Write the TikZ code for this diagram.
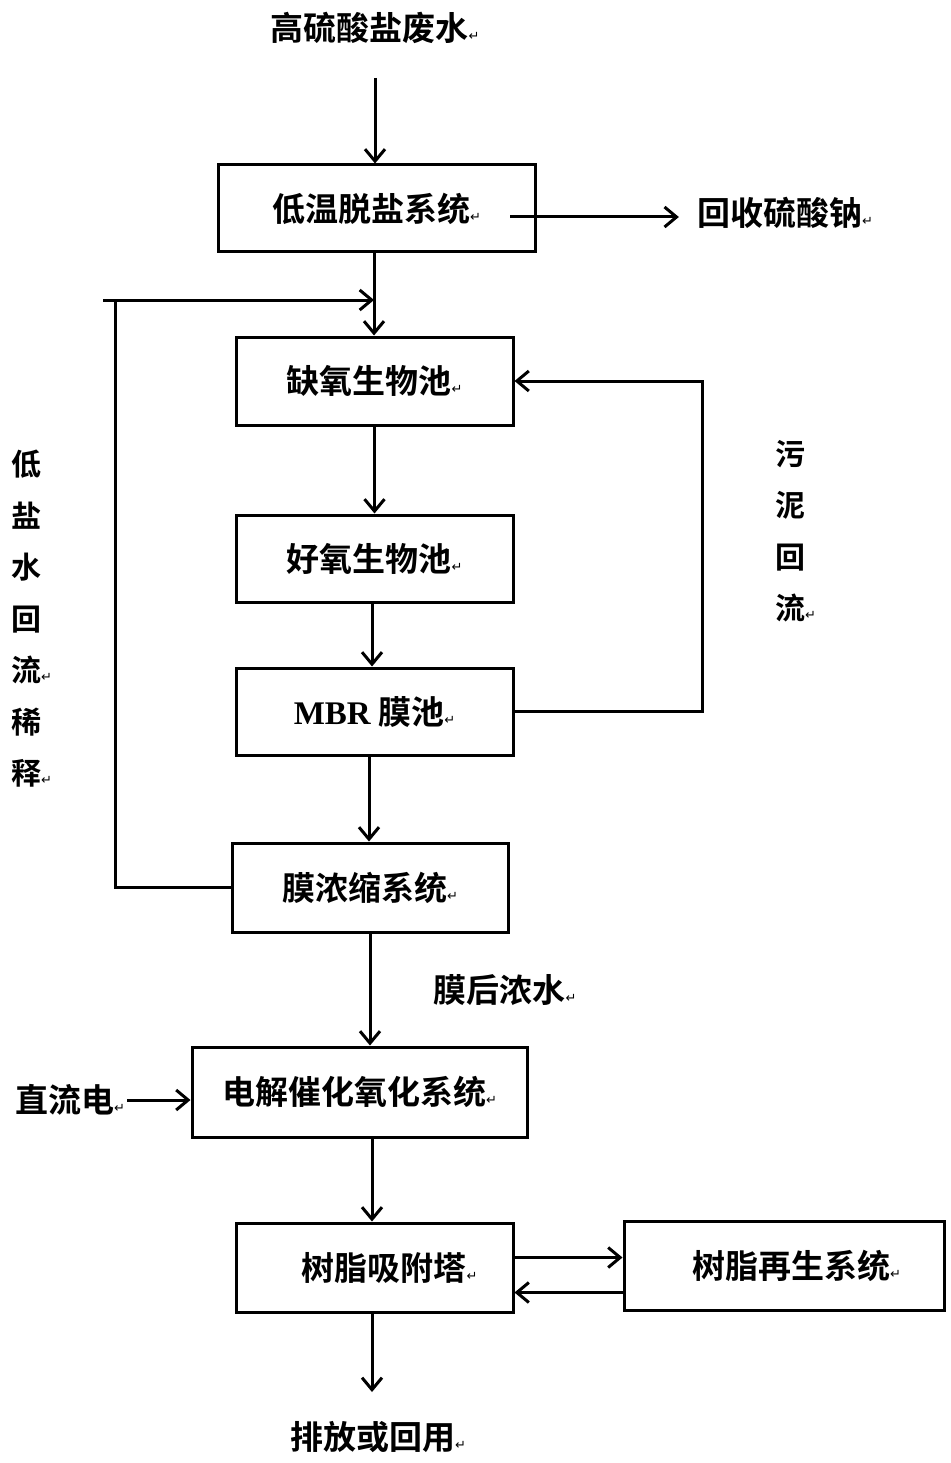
\documentclass[tikz,border=0pt]{standalone}
\usepackage{fontspec}
\setmainfont{Noto Sans CJK SC}[BoldFont={Noto Sans CJK SC Bold}]
\newfontfamily\retfont{DejaVu Sans}
\newfontfamily\tnr{Liberation Serif}
\usetikzlibrary{arrows.meta}
\newcommand{\rtt}{{\mdseries\retfont\fontsize{13pt}{13pt}\selectfont ↵}}
\newcommand{\rlt}{\rlap{\rtt}}
\tikzset{
  box/.style={draw, line width=3pt, inner sep=0pt, font=\fontsize{33pt}{33pt}\selectfont\bfseries},
  lbl/.style={inner sep=2pt, font=\fontsize{33pt}{33pt}\selectfont\bfseries},
  vlbl/.style={inner sep=0pt, align=center, font=\fontsize{30pt}{51.5pt}\selectfont\bfseries},
  conn/.style={line width=3pt},
  arr/.style={line width=3pt, -{Straight Barb[length=12pt,width=20pt,line width=3pt]}}
}
\begin{document}
\begin{tikzpicture}[x=1pt,y=-1pt]
\useasboundingbox (0,0) rectangle (950,1463);
% nodes
\node[lbl] (src) at (375,28) {高硫酸盐废水\rtt};
\node[box, minimum width=317pt, minimum height=87pt] (b1) at (376.5,208.5) {低温脱盐系统\rtt};
\node[lbl] (rec) at (785,213) {回收硫酸钠\rtt};
\node[box, minimum width=277pt, minimum height=88pt] (b2) at (374.5,381) {缺氧生物池\rtt};
\node[box, minimum width=277pt, minimum height=87pt] (b3) at (374.5,558.5) {好氧生物池\rtt};
\node[box, minimum width=277pt, minimum height=87pt] (b4) at (374.5,711.5) {{\tnr\bfseries MBR} 膜池\rtt};
\node[box, minimum width=276pt, minimum height=89pt] (b6) at (370,887.5) {膜浓缩系统\rtt};
\node[lbl] (mh) at (505,990) {膜后浓水\rtt};
\node[box, minimum width=335pt, minimum height=90pt] (b7) at (359.5,1092) {电解催化氧化系统\rtt};
\node[lbl] (dc) at (70,1100) {直流电\rtt};
\node[box, minimum width=277pt, minimum height=89pt] (b8) at (374.5,1267.5) {\hspace*{30pt}树脂吸附塔\rtt};
\node[box, minimum width=320pt, minimum height=89pt] (b9) at (784,1265.5) {\hspace*{25pt}树脂再生系统\rtt};
\node[lbl] (out) at (378,1437) {排放或回用\rtt};
\node[vlbl] (lv) at (26,619) {低\\盐\\水\\回\\流\rlt\\稀\\释\rlt};
\node[vlbl] (sv) at (790,531) {污\\泥\\回\\流\rlt};
% coordinates
\coordinate (c0) at (375,78);
\coordinate (c1) at (510,217);
\coordinate (fs) at (103,300);
\coordinate (fl) at (115,300);
\coordinate (ft) at (374,300);
\coordinate (s1) at (702,708);
\coordinate (ob) at (372,1392);
% connectors
\draw[arr] (c0) -- (c0 |- b1.north);
\draw[arr, shorten >=16pt] (c1) -- (c1 -| rec.west);
\draw[arr] (b1.south -| ft) -- (b2.north -| ft);
\draw[arr] (fs) -- (ft);
\draw[conn] (b6.west) -- (b6.west -| fl) -- (fl);
\draw[arr] (b2.south) -- (b3.north);
\draw[arr] (b3.south -| 372,0) -- (b4.north -| 372,0);
\draw[arr] (b4.south -| 369,0) -- (b6.north -| 369,0);
\draw[arr] (b4.east) -- (b4.east -| s1) -- (s1 |- b2.east) -- (b2.east);
\draw[arr] (b6.south) -- (b6.south |- b7.north);
\draw[arr] (dc.east) -- (dc.east -| b7.west);
\draw[arr] (b7.south -| ob) -- (b8.north -| ob);
\draw[arr] ([yshift=10pt]b8.east) -- ([yshift=10pt]b8.east -| b9.west);
\draw[arr] ([yshift=-25pt]b8.east -| b9.west) -- ([yshift=-25pt]b8.east);
\draw[arr] (b8.south -| ob) -- (ob);
\end{tikzpicture}
\end{document}
